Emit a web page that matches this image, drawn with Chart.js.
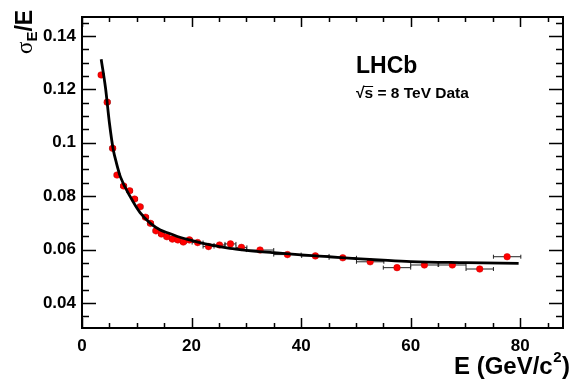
<!DOCTYPE html>
<html>
<head>
<meta charset="utf-8">
<script src="https://cdn.jsdelivr.net/npm/chart.js@4.4.0/dist/chart.umd.min.js"></script>
<style>
    html, body { margin: 0; padding: 0; background: #fff; }
</style>
</head>
<body>
<canvas id="myChart" width="571" height="387"></canvas>
<script>
    // measured points (bin centre in GeV, relative resolution)
    const energy = [3.5, 4.6, 5.6, 6.4, 7.6, 8.7, 9.6, 10.6, 11.6, 12.5, 13.5, 14.5, 15.5, 16.5, 17.5, 18.5, 19.6,
        21.1, 23.1, 25.1, 27.1, 29.1, 32.5, 37.5, 42.6, 47.6, 52.6, 57.5, 62.5, 67.6, 72.6, 77.6];
    const resolution = [0.1254, 0.1152, 0.0979, 0.0879, 0.0838, 0.0820, 0.0789, 0.0760, 0.0721, 0.0698, 0.0670,
        0.0658, 0.0648, 0.0639, 0.0636, 0.0628, 0.0636, 0.0626, 0.0611, 0.0617, 0.0621, 0.0608, 0.0598, 0.0581,
        0.0576, 0.0569, 0.0554, 0.0532, 0.0542, 0.0542, 0.0527, 0.0573];
    const energyErr = [0.5, 0.5, 0.5, 0.5, 0.5, 0.5, 0.5, 0.5, 0.5, 0.5, 0.5, 0.5, 0.5, 0.5, 0.5, 0.5, 0.5,
        1, 1, 1, 1, 1, 2.5, 2.5, 2.5, 2.5, 2.5, 2.5, 2.5, 2.5, 2.5, 2.5];
    const resolutionErr = [0.0006, 0.0005, 0.0004, 0.0004, 0.0003, 0.0003, 0.0003, 0.0003, 0.0003, 0.0003, 0.0003,
        0.0003, 0.0003, 0.0003, 0.0003, 0.0003, 0.0003, 0.0003, 0.0003, 0.0003, 0.0003, 0.0003, 0.0003, 0.0003,
        0.0003, 0.0004, 0.0004, 0.0005, 0.0005, 0.0005, 0.0006, 0.0007];

    // fitted curve
    const fitEnergy = [3.5, 4.3, 5.0, 5.7, 6.3, 7.0, 8.8, 10.6, 12.5, 14.3, 16, 18, 20, 23, 27, 30, 35, 40, 45, 50, 55, 60, 70, 79.7];
    const fitResolution = [0.1313, 0.1204, 0.1075, 0.0975, 0.0923, 0.0873, 0.0798, 0.0738, 0.0698, 0.0673, 0.0660,
        0.0645, 0.0634, 0.0619, 0.0604, 0.0597, 0.0588, 0.0580, 0.0573, 0.0566, 0.0560, 0.0555, 0.0551, 0.0548];

    // axes
    const xTickValues = [0, 20, 40, 60, 80];
    const xMinorTicks = [5, 10, 15, 25, 30, 35, 45, 50, 55, 65, 70, 75, 85];
    const yTickValues = [0.04, 0.06, 0.08, 0.1, 0.12, 0.14];
    const yTickLabels = ['0.04', '0.06', '0.08', '0.1', '0.12', '0.14'];
    const yMinorTicks = [0.035, 0.045, 0.05, 0.055, 0.065, 0.07, 0.075, 0.085, 0.09, 0.095, 0.105, 0.11, 0.115, 0.125, 0.13, 0.135, 0.145];

    const FONT = 'Liberation Sans, Arial, Helvetica, sans-serif';

    const points = energy.map((e, i) => ({ x: e, y: resolution[i] }));
    const fitLine = fitEnergy.map((e, i) => ({ x: e, y: fitResolution[i] }));

    // error bars go under the markers
    const errorBars = {
        id: 'errorBars',
        beforeDatasetsDraw(chart) {
            const ctx = chart.ctx;
            const xs = chart.scales.x, ys = chart.scales.y;
            ctx.save();
            ctx.strokeStyle = '#222';
            ctx.lineWidth = 1;
            energy.forEach((e, i) => {
                const y = ys.getPixelForValue(resolution[i]);
                const x0 = xs.getPixelForValue(e - energyErr[i]);
                const x1 = xs.getPixelForValue(e + energyErr[i]);
                const xc = xs.getPixelForValue(e);
                const y0 = ys.getPixelForValue(resolution[i] - resolutionErr[i]);
                const y1 = ys.getPixelForValue(resolution[i] + resolutionErr[i]);
                ctx.beginPath();
                ctx.moveTo(x0, y); ctx.lineTo(x1, y);
                ctx.moveTo(x0, y - 2); ctx.lineTo(x0, y + 2);
                ctx.moveTo(x1, y - 2); ctx.lineTo(x1, y + 2);
                ctx.moveTo(xc, y0); ctx.lineTo(xc, y1);
                ctx.stroke();
            });
            ctx.restore();
        }
    };

    // ROOT-style frame, inward ticks on all sides, titles and labels
    const frame = {
        id: 'frame',
        afterDraw(chart) {
            const ctx = chart.ctx;
            const a = chart.chartArea;
            const xs = chart.scales.x, ys = chart.scales.y;
            ctx.save();
            ctx.strokeStyle = '#000';
            ctx.lineWidth = 1.5;
            ctx.beginPath();
            xTickValues.concat(xMinorTicks).forEach(v => {
                const len = xTickValues.includes(v) ? 10 : 5;
                const x = Math.round(xs.getPixelForValue(v)) + 0.5;
                ctx.moveTo(x, a.bottom); ctx.lineTo(x, a.bottom - len);
                ctx.moveTo(x, a.top); ctx.lineTo(x, a.top + len);
            });
            yTickValues.concat(yMinorTicks).forEach(v => {
                const len = yTickValues.includes(v) ? 14 : 7;
                const y = Math.round(ys.getPixelForValue(v)) + 0.5;
                ctx.moveTo(a.left, y); ctx.lineTo(a.left + len, y);
                ctx.moveTo(a.right, y); ctx.lineTo(a.right - len, y);
            });
            ctx.stroke();
            ctx.lineWidth = 2;
            ctx.strokeRect(a.left, a.top, a.right - a.left, a.bottom - a.top);

            ctx.fillStyle = '#000';
            ctx.textBaseline = 'alphabetic';

            // x title
            const big = 'bold 24px ' + FONT, sup = 'bold 15px ' + FONT;
            ctx.font = big;
            const w1 = ctx.measureText('E (GeV/c').width;
            const w3 = ctx.measureText(')').width;
            ctx.font = sup;
            const w2 = ctx.measureText('2').width + 1;
            let x = 570 - (w1 + w2 + w3);
            ctx.font = big;
            ctx.fillText('E (GeV/c', x, 374);
            ctx.font = sup;
            ctx.fillText('2', x + w1 + 0.5, 362);
            ctx.font = big;
            ctx.fillText(')', x + w1 + w2, 374);

            // y title
            ctx.save();
            ctx.translate(32, 54);
            ctx.rotate(-Math.PI / 2);
            ctx.font = '23px Liberation Serif, serif';
            ctx.fillText('σ', 0, 0);
            let p = ctx.measureText('σ').width;
            ctx.font = 'bold 15px ' + FONT;
            ctx.fillText('E', p, 5);
            p += ctx.measureText('E').width;
            ctx.font = 'bold 23px ' + FONT;
            ctx.fillText('/E', p, 0);
            ctx.restore();

            // labels
            ctx.font = 'bold 23px ' + FONT;
            ctx.fillText('LHCb', 356, 73);
            ctx.font = 'bold 15.5px ' + FONT;
            ctx.fillText('√', 356, 98);
            const rw = ctx.measureText('√').width;
            const sw = ctx.measureText('s').width;
            ctx.fillText('s = 8 TeV Data', 356 + rw, 98);
            ctx.lineWidth = 1;
            ctx.beginPath();
            ctx.moveTo(356 + rw - 1, 86.5); ctx.lineTo(356 + rw + sw, 86.5);
            ctx.stroke();
            ctx.restore();
        }
    };

    const ctx = document.getElementById('myChart');

    const chart = new Chart(ctx, {
        type: 'scatter',
        data: {
            datasets: [{
                label: 'fit',
                data: fitLine,
                showLine: true,
                borderColor: '#000',
                borderWidth: 2.8,
                pointRadius: 0,
                cubicInterpolationMode: 'monotone',
                order: 0
            }, {
                label: 'data',
                data: points,
                pointStyle: 'circle',
                pointRadius: 3.3,
                backgroundColor: '#ff0000',
                borderColor: '#cc0000',
                borderWidth: 0.5,
                order: 1
            }]
        },
        options: {
            responsive: false,
            animation: false,
            layout: { padding: { top: 17, right: 8, left: 0, bottom: 0 } },
            plugins: { legend: { display: false }, tooltip: { enabled: false } },
            scales: {
                x: {
                    type: 'linear',
                    min: 0,
                    max: 87.8,
                    grid: { display: false, drawTicks: false },
                    border: { display: false },
                    ticks: { color: '#000', font: { family: FONT, size: 17, weight: 'bold' }, padding: 8, maxRotation: 0 },
                    afterBuildTicks: s => { s.ticks = xTickValues.map(v => ({ value: v })); },
                    afterFit: s => { s.height = 59; s.paddingLeft = 0; s.paddingRight = 0; }
                },
                y: {
                    type: 'linear',
                    min: 0.0306,
                    max: 0.1471,
                    grid: { display: false, drawTicks: false },
                    border: { display: false },
                    ticks: {
                        color: '#000', font: { family: FONT, size: 17, weight: 'bold' }, padding: 6,
                        callback: v => { const i = yTickValues.findIndex(t => Math.abs(t - v) < 1e-9); return i >= 0 ? yTickLabels[i] : ''; }
                    },
                    afterBuildTicks: s => { s.ticks = yTickValues.map(v => ({ value: v })); },
                    afterFit: s => { s.width = 82; s.paddingTop = 0; s.paddingBottom = 0; }
                }
            }
        },
        plugins: [errorBars, frame]
    });
</script>
</body>
</html>
